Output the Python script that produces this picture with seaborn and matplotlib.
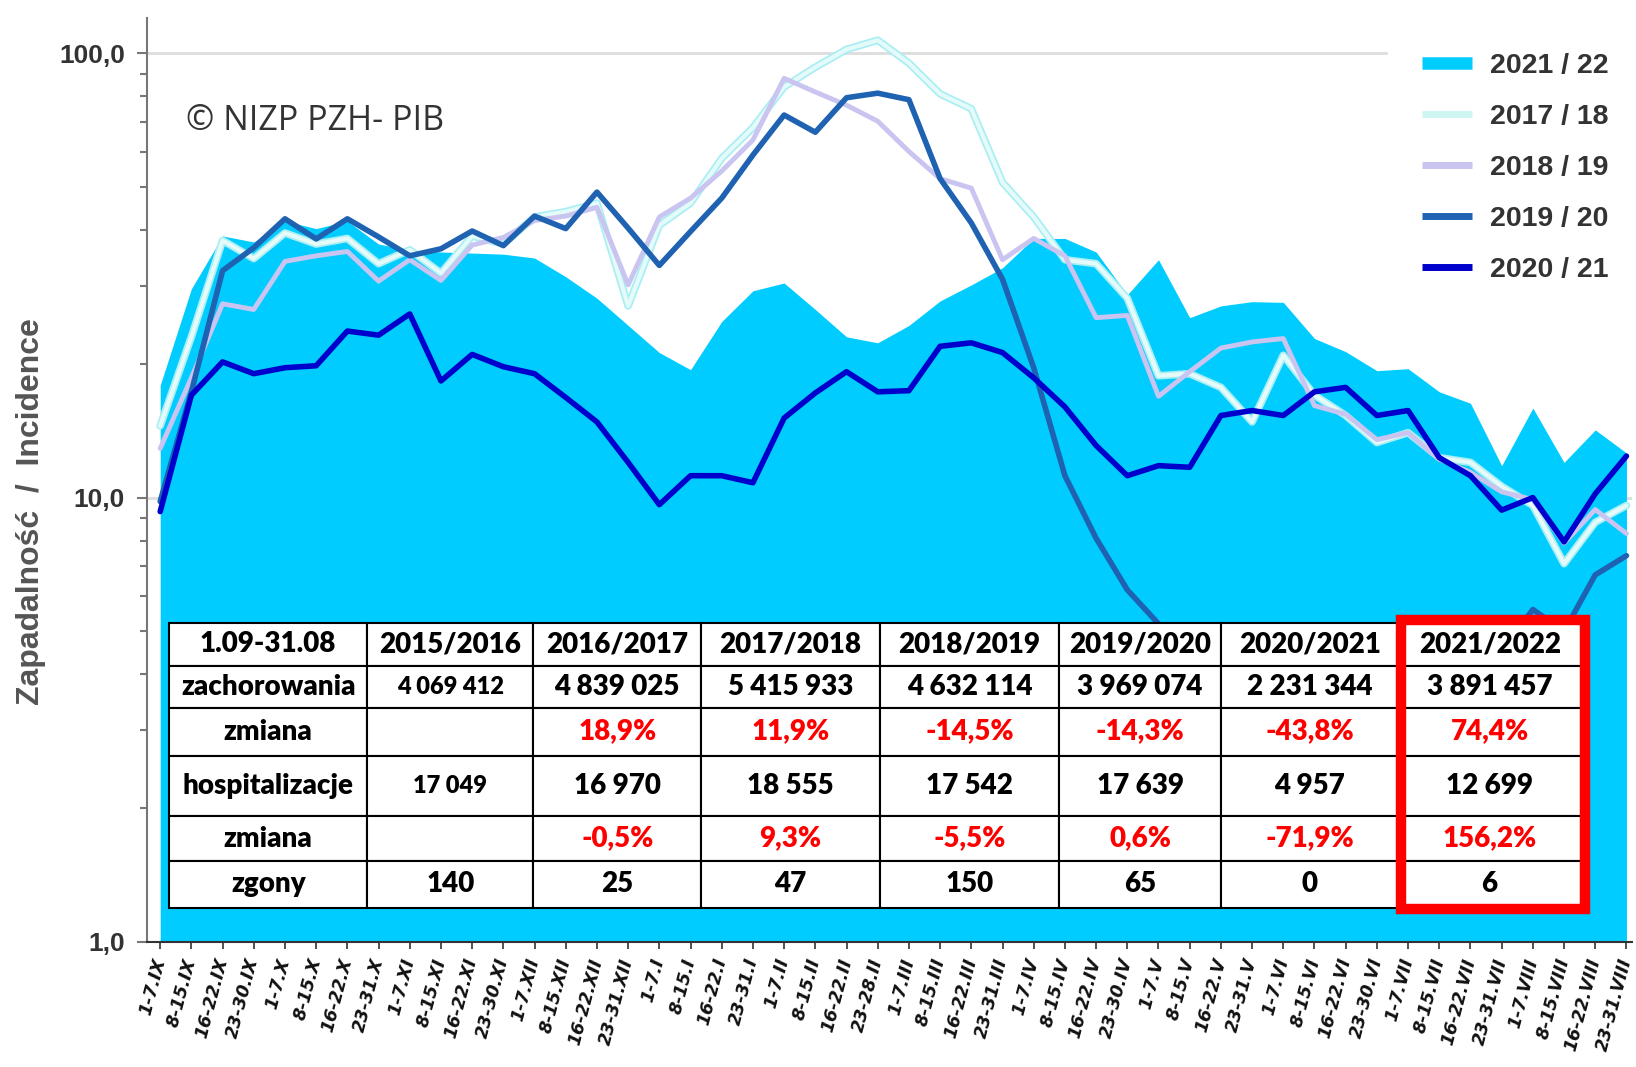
import numpy as np
import pandas as pd
import seaborn as sns
import matplotlib.pyplot as plt
import matplotlib.patheffects as pe
from matplotlib.lines import Line2D
from matplotlib.patches import Rectangle
from matplotlib.ticker import NullFormatter, LogLocator

sns.set_style('ticks')
plt.rcParams['font.family'] = ['Liberation Sans', 'DejaVu Sans']

weeks = ['1-7.IX', '8-15.IX', '16-22.IX', '23-30.IX',
         '1-7.X', '8-15.X', '16-22.X', '23-31.X',
         '1-7.XI', '8-15.XI', '16-22.XI', '23-30.XI',
         '1-7.XII', '8-15.XII', '16-22.XII', '23-31.XII',
         '1-7.I', '8-15.I', '16-22.I', '23-31.I',
         '1-7.II', '8-15.II', '16-22.II', '23-28.II',
         '1-7.III', '8-15.III', '16-22.III', '23-31.III',
         '1-7.IV', '8-15.IV', '16-22.IV', '23-30.IV',
         '1-7.V', '8-15.V', '16-22.V', '23-31.V',
         '1-7.VI', '8-15.VI', '16-22.VI', '23-30.VI',
         '1-7.VII', '8-15.VII', '16-22.VII', '23-31.VII',
         '1-7.VIII', '8-15.VIII', '16-22.VIII', '23-31.VIII']

# incidence per 100 000
s2122 = [17.9, 29.5, 38.8, 37.6, 41.9, 40.3, 41.9, 37.2, 36.1, 35.7, 35.5, 35.3,
         34.6, 31.4, 28.1, 24.4, 21.2, 19.4, 24.9, 29.2, 30.4, 26.5, 23.0, 22.3,
         24.4, 27.7, 30.1, 32.9, 38.3, 38.3, 35.7, 28.6, 34.3, 25.4, 27.0, 27.6,
         27.5, 22.8, 21.3, 19.3, 19.5, 17.3, 16.3, 11.8, 15.9, 12.0, 14.2, 12.6]
s1718 = [14.5, 23.0, 37.9, 34.5, 39.4, 37.2, 38.3, 33.6, 36.1, 32.0, 38.8, 37.2,
         42.8, 44.0, 46.0, 27.0, 41.0, 46.0, 58.0, 68.0, 84.0, 93.0, 102.0, 107.0,
         95.0, 81.0, 75.0, 51.2, 42.8, 34.3, 33.6, 28.1, 18.8, 19.0, 17.7, 14.8,
         20.9, 17.0, 15.3, 13.3, 14.0, 12.3, 12.0, 10.6, 9.6, 7.1, 8.8, 9.6]
s1819 = [12.9, 18.6, 27.3, 26.5, 34.0, 35.0, 35.8, 30.7, 34.3, 30.8, 37.0, 38.5,
         42.0, 43.0, 45.0, 30.1, 42.8, 47.2, 54.3, 63.8, 87.8, 81.8, 76.4, 70.3,
         60.1, 52.2, 49.7, 34.3, 38.3, 35.0, 25.4, 25.7, 16.9, 19.2, 21.7, 22.4,
         22.8, 16.1, 15.4, 13.5, 14.0, 12.2, 11.4, 10.3, 9.9, 7.9, 9.4, 8.3]
# 2019/20 runs behind the table from April to July
s1920 = [9.8, 17.3, 32.4, 36.5, 42.4, 38.2, 42.4, 38.6, 35.0, 36.3, 39.8, 36.9,
         43.0, 40.3, 48.7, 40.4, 33.3, 39.7, 47.2, 59.0, 72.6, 66.4, 79.4, 81.3,
         78.6, 52.2, 41.5, 31.0, 19.6, 11.2, 8.1, 6.2, 5.2, np.nan, np.nan, np.nan,
         np.nan, np.nan, np.nan, np.nan, np.nan, np.nan, np.nan, 4.5, 5.6, 5.0, 6.7, 7.4]
s2021 = [9.3, 17.0, 20.2, 19.0, 19.6, 19.8, 23.7, 23.2, 25.9, 18.3, 21.0, 19.7,
         19.0, 16.8, 14.8, 12.0, 9.64, 11.2, 11.2, 10.8, 15.1, 17.2, 19.2, 17.3,
         17.4, 21.9, 22.3, 21.2, 18.6, 16.0, 13.1, 11.2, 11.8, 11.7, 15.3, 15.7,
         15.3, 17.3, 17.7, 15.3, 15.7, 12.3, 11.2, 9.37, 10.0, 7.95, 10.2, 12.4]

season_labels = ['2021 / 22', '2017 / 18', '2018 / 19', '2019 / 20', '2020 / 21']
season_colors = ['#00CCFF', '#CDF6F2', '#C9C4F0', '#1F62B2', '#0000CC']

tbl_header = ['1.09-31.08', '2015/2016', '2016/2017', '2017/2018', '2018/2019',
              '2019/2020', '2020/2021', '2021/2022']
row_names = ['zachorowania', 'zmiana', 'hospitalizacje', 'zmiana', 'zgony']
cases = ['4 069 412', '4 839 025', '5 415 933', '4 632 114', '3 969 074', '2 231 344', '3 891 457']
cases_chg = ['', '18,9%', '11,9%', '-14,5%', '-14,3%', '-43,8%', '74,4%']
hosp = ['17 049', '16 970', '18 555', '17 542', '17 639', '4 957', '12 699']
hosp_chg = ['', '-0,5%', '9,3%', '-5,5%', '0,6%', '-71,9%', '156,2%']
deaths = ['140', '25', '47', '150', '65', '0', '6']

x = np.arange(len(weeks))

fig = plt.figure(figsize=(16.36, 10.67), dpi=100)
ax = fig.add_axes([0.0899, 0.1172, 0.9077, 0.8659])

ax.fill_between(x, 1, s2122, color=season_colors[0], lw=0, zorder=1)

sns.lineplot(x=x, y=s1718, color='#E4FBFA', lw=3, ax=ax, zorder=2,
             path_effects=[pe.Stroke(linewidth=5.5, foreground='#A9EEF3'), pe.Normal()])
sns.lineplot(x=x, y=s1819, color=season_colors[2], lw=3.5, ax=ax, zorder=3)
df1920 = pd.DataFrame({'week': x, 'val': s1920,
                       'seg': np.where(x < 38, 0, 1)})
sns.lineplot(data=df1920, x='week', y='val', units='seg', estimator=None,
             color=season_colors[3], lw=4, ax=ax, zorder=4)
sns.lineplot(x=x, y=s2021, color=season_colors[4], lw=4, ax=ax, zorder=5)

ax.set_yscale('log')
ax.set_ylim(1, 120)
ax.set_xlim(-0.42, 47.18)
ax.set_yticks([1, 10, 100])
ax.set_yticklabels(['1,0', '10,0', '100,0'], fontsize=19, fontweight='bold', color='#333333')
ax.yaxis.set_minor_locator(LogLocator(base=10, subs=np.arange(2, 10)))
ax.yaxis.set_minor_formatter(NullFormatter())
ax.yaxis.grid(True, which='major', color='#dddddd', lw=2)
ax.set_axisbelow(True)
ax.tick_params(axis='y', which='major', length=7, width=1.5, color='#777777', pad=9)
ax.tick_params(axis='y', which='minor', length=5, width=1.5, color='#777777')

ax.set_xticks(x)
ax.set_xticklabels(weeks, rotation=75, ha='right', va='center', rotation_mode='anchor',
                   fontsize=12.5, fontweight='bold', fontstyle='italic',
                   family=['DejaVu Sans'], color='#111111')
ax.tick_params(axis='x', length=5, width=1.2, color='#333333', pad=7)
ax.set_xlabel('')
ax.set_ylabel('')

sns.despine(ax=ax, top=True, right=True)
ax.spines['left'].set_color('#777777')
ax.spines['left'].set_linewidth(1.5)
ax.spines['bottom'].set_color('#333333')
ax.spines['bottom'].set_linewidth(1.5)

fig.text(0.019, 0.521, 'Zapadalność  /  Incidence', rotation=90, ha='center', va='center',
         fontsize=23, fontweight='bold', color='#555555')
fig.text(0.1137, 0.887, '© NIZP PZH- PIB', ha='left', va='center',
         fontsize=24.5, color='#333333', family=['Open Sans', 'DejaVu Sans'])

# legend
handles = [Line2D([], [], color=season_colors[0], lw=9, solid_capstyle='butt')]
for c in season_colors[1:]:
    handles.append(Line2D([], [], color=c, lw=5, solid_capstyle='butt'))
leg = ax.legend(handles, season_labels, loc='center left', bbox_to_anchor=(0.8395, 0.8425),
                bbox_transform=fig.transFigure, frameon=True, facecolor='white',
                edgecolor='white', framealpha=1, fancybox=False, borderpad=1.2,
                handlelength=1.75, handletextpad=0.65, labelspacing=0.885,
                prop={'weight': 'bold', 'size': 20.5})
for t in leg.get_texts():
    t.set_color('#333333')
leg.set_zorder(6)

# summary table over the chart
cell_text = [[row_names[0]] + cases,
             [row_names[1]] + cases_chg,
             [row_names[2]] + hosp,
             [row_names[3]] + hosp_chg,
             [row_names[4]] + deaths]
tbl = ax.table(cellText=cell_text, colLabels=tbl_header, cellLoc='center',
               bbox=[0.0148, 0.0368, 0.9508, 0.3084])
tbl.auto_set_font_size(False)
tbl.set_zorder(10)
col_w = [190, 159, 161, 171, 172, 155, 170, 175]
row_h = [41, 40, 46, 58, 43, 45]
for (r, c), cell in tbl.get_celld().items():
    cell.set_width(col_w[c])
    cell.set_height(row_h[r])
    cell.set_facecolor('white')
    cell.set_edgecolor('black')
    cell.set_linewidth(1.5)
    txt = cell.get_text()
    txt.set_fontfamily(['Lato', 'DejaVu Sans'])
    txt.set_fontweight('heavy')
    txt.set_fontsize(20)
    txt.set_color('black')
    if r in (2, 4) and c > 0:
        txt.set_color('#FF0000')
    if r in (1, 3) and c == 1:
        txt.set_fontsize(17)

box = Rectangle((0.8564, 0.1485), 0.1124, 0.2708, transform=fig.transFigure,
                fill=False, edgecolor='#FF0000', lw=7.5, zorder=11, clip_on=False)
fig.patches.append(box)

fig.savefig('out.png', dpi=100)
plt.close()
